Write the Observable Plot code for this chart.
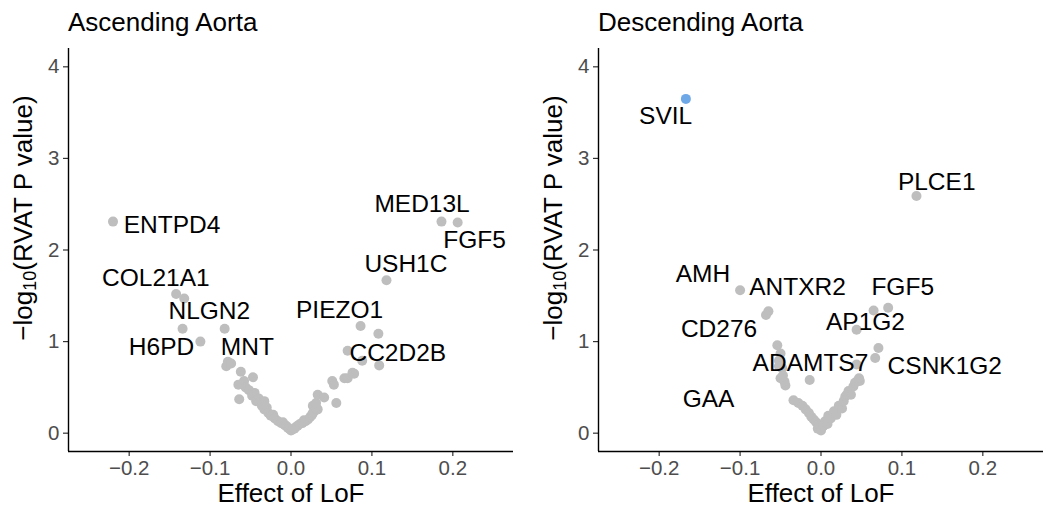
<!DOCTYPE html>
<html><head><meta charset="utf-8">
<script src="https://cdn.jsdelivr.net/npm/d3@7"></script>
<script src="https://cdn.jsdelivr.net/npm/@observablehq/plot@0.6"></script>
<style>
body{margin:0;background:#fff;}
#wrap{display:flex;width:1050px;height:513px;overflow:hidden;}
#wrap svg{display:block;}
</style></head><body><div id="wrap"></div>
<script>
// ---- shared axis data ----
const xTicks = [-0.2, -0.1, 0, 0.1, 0.2];
const yTicks = [0, 1, 2, 3, 4];
const xDomain = [-0.275, 0.275];
const yDomain = [-0.2, 4.2];
const xLabel = "Effect of LoF";
const panelTitles = ["Ascending Aorta", "Descending Aorta"];

// ---- Ascending aorta: labelled genes ----
const ascGenes = ["ENTPD4", "COL21A1", "NLGN2", "H6PD", "MNT", "MED13L", "FGF5", "USH1C", "PIEZO1", "CC2D2B"];
const ascGeneEffect = [-0.220, -0.142, -0.132, -0.112, -0.082, 0.186, 0.206, 0.118, 0.086, 0.109];
const ascGeneLogP = [2.31, 1.52, 1.47, 1.00, 1.14, 2.31, 2.30, 1.67, 1.17, 0.74];
const ascLabelX = [-0.147, -0.167, -0.101, -0.160, -0.054, 0.162, 0.227, 0.142, 0.060, 0.132];
const ascLabelY = [2.27, 1.69, 1.33, 0.94, 0.94, 2.50, 2.11, 1.85, 1.34, 0.87];
// ---- Ascending aorta: other genes ----
const ascOtherEffect = [-0.134, -0.080, -0.078, -0.074, -0.062, -0.047, -0.058, -0.065, -0.056, -0.052, -0.045, -0.048, -0.064, -0.040, -0.043, -0.033, -0.036, -0.030, -0.033, -0.028, -0.025, -0.022, -0.020, -0.016, -0.012, -0.010, -0.008, -0.006, -0.004, -0.002, 0.000, 0.002, 0.004, 0.005, 0.008, 0.011, 0.014, 0.016, 0.018, 0.021, 0.024, 0.026, 0.027, 0.029, 0.033, 0.030, 0.027, 0.031, 0.031, 0.033, 0.041, 0.056, 0.051, 0.053, 0.066, 0.070, 0.076, 0.078, 0.088, 0.070, 0.108];
const ascOtherLogP = [1.14, 0.73, 0.78, 0.76, 0.67, 0.61, 0.57, 0.53, 0.50, 0.47, 0.44, 0.41, 0.37, 0.38, 0.35, 0.35, 0.30, 0.28, 0.26, 0.22, 0.19, 0.20, 0.16, 0.13, 0.11, 0.12, 0.09, 0.08, 0.06, 0.05, 0.03, 0.04, 0.05, 0.06, 0.08, 0.10, 0.11, 0.14, 0.13, 0.15, 0.18, 0.20, 0.22, 0.24, 0.26, 0.27, 0.30, 0.28, 0.33, 0.42, 0.39, 0.33, 0.57, 0.53, 0.60, 0.60, 0.66, 0.65, 0.79, 0.90, 1.085];

// ---- Descending aorta: labelled genes ----
const descGenes = ["SVIL", "PLCE1", "AMH", "ANTXR2", "FGF5", "CD276", "AP1G2", "ADAMTS7", "CSNK1G2", "GAA"];
const descGeneEffect = [-0.167, 0.118, -0.100, -0.065, 0.083, -0.068, 0.044, -0.014, 0.067, -0.034];
const descGeneLogP = [3.65, 2.59, 1.56, 1.33, 1.37, 1.29, 1.13, 0.58, 0.82, 0.36];
const descLabelX = [-0.192, 0.143, -0.146, -0.029, 0.101, -0.126, 0.055, -0.013, 0.153, -0.139];
const descLabelY = [3.46, 2.74, 1.74, 1.59, 1.59, 1.14, 1.21, 0.76, 0.73, 0.37];
const descHighlight = ["SVIL"];
// ---- Descending aorta: other genes ----
const descOtherEffect = [-0.054, -0.050, -0.052, -0.048, -0.052, -0.047, -0.050, -0.045, -0.044, -0.028, -0.023, -0.019, -0.015, -0.012, -0.009, -0.006, -0.003, -0.004, 0.001, 0.000, 0.003, 0.005, 0.008, 0.009, 0.012, 0.016, 0.019, 0.022, 0.026, 0.028, 0.030, 0.032, 0.034, 0.037, 0.040, 0.042, 0.045, 0.048, 0.047, 0.044, 0.065, 0.071];
const descOtherLogP = [0.96, 0.87, 0.79, 0.71, 0.73, 0.63, 0.60, 0.56, 0.52, 0.33, 0.30, 0.26, 0.22, 0.18, 0.15, 0.12, 0.095, 0.05, 0.06, 0.03, 0.08, 0.13, 0.10, 0.19, 0.16, 0.24, 0.20, 0.30, 0.27, 0.35, 0.40, 0.42, 0.46, 0.42, 0.51, 0.55, 0.57, 0.57, 0.60, 0.75, 1.34, 0.93];

const FONT = "'Liberation Sans', Arial, Helvetica, sans-serif";
const GREY = "#BEBEBE";
const BLUE = "#6FA8E6";

function panel({title, otherEffect, otherLogP, genes, geneEffect, geneLogP, labelX, labelY, highlight, marginLeft, marginRight}) {
  const others = otherEffect.map((e, i) => ({effect: e, logP: otherLogP[i]}));
  const labelled = genes.map((g, i) => ({gene: g, effect: geneEffect[i], logP: geneLogP[i], lx: labelX[i], ly: labelY[i], hi: highlight.includes(g)}));
  const svg = Plot.plot({
    width: 525, height: 513,
    marginTop: 48, marginBottom: 62, marginLeft, marginRight,
    style: {fontFamily: FONT, background: "white", color: "black", overflow: "visible"},
    x: {domain: xDomain},
    y: {domain: yDomain},
    marks: [
      Plot.axisX({ticks: xTicks, tickFormat: d3.format(".1f"), tickSize: 5, tickPadding: 4, fontSize: 20.5, fill: "#4D4D4D", stroke: "#333333", strokeWidth: 1.2, label: null}),
      Plot.axisY({ticks: yTicks, tickFormat: d3.format("d"), tickSize: 5, tickPadding: 4, fontSize: 20.5, fill: "#4D4D4D", stroke: "#333333", strokeWidth: 1.2, label: null}),
      Plot.ruleX([xDomain[0]], {stroke: "black", strokeWidth: 1.4}),
      Plot.ruleY([yDomain[0]], {stroke: "black", strokeWidth: 1.4}),
      Plot.dot(others, {x: "effect", y: "logP", r: 5, fill: GREY}),
      Plot.dot(labelled, {x: "effect", y: "logP", r: 5, fill: d => d.hi ? BLUE : GREY}),
      Plot.text(labelled, {x: "lx", y: "ly", text: "gene", fontSize: 24.5, fill: "black"}),
      Plot.text([xLabel], {frameAnchor: "bottom", lineAnchor: "middle", text: d => d, dy: 42, fontSize: 26, fill: "black"})
    ]
  });
  const s = d3.select(svg);
  s.append("text")
    .attr("x", marginLeft).attr("y", 31)
    .attr("text-anchor", "start")
    .attr("font-size", 26).attr("font-family", FONT).attr("fill", "black")
    .text(title);
  const yl = s.append("text")
    .attr("transform", `translate(${marginLeft - 43},218) rotate(-90)`)
    .attr("text-anchor", "middle").attr("dominant-baseline", "middle")
    .attr("font-size", 26).attr("font-family", FONT).attr("fill", "black");
  yl.append("tspan").text("\u2212log");
  yl.append("tspan").attr("font-size", 18).attr("dy", 6).text("10");
  yl.append("tspan").attr("dy", -6).text("(RVAT P value)");
  return svg;
}

const wrap = document.getElementById("wrap");
wrap.append(panel({
  title: panelTitles[0],
  otherEffect: ascOtherEffect, otherLogP: ascOtherLogP,
  genes: ascGenes, geneEffect: ascGeneEffect, geneLogP: ascGeneLogP,
  labelX: ascLabelX, labelY: ascLabelY, highlight: [],
  marginLeft: 68, marginRight: 12
}));
wrap.append(panel({
  title: panelTitles[1],
  otherEffect: descOtherEffect, otherLogP: descOtherLogP,
  genes: descGenes, geneEffect: descGeneEffect, geneLogP: descGeneLogP,
  labelX: descLabelX, labelY: descLabelY, highlight: descHighlight,
  marginLeft: 73, marginRight: 7
}));
</script></body></html>
